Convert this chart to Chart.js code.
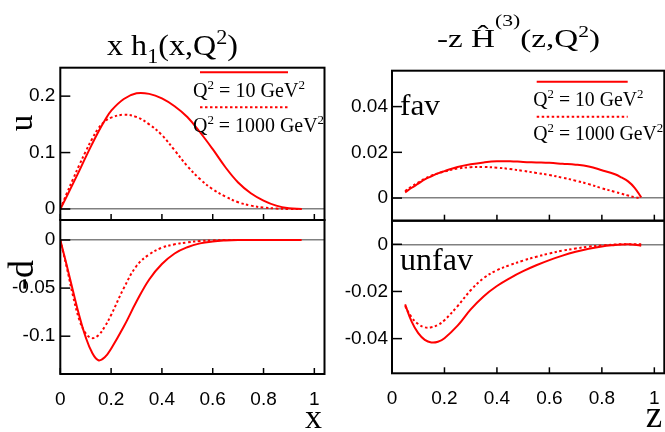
<!DOCTYPE html>
<html><head><meta charset="utf-8">
<script src="https://cdn.jsdelivr.net/npm/chart.js@4.4.1/dist/chart.umd.min.js"></script>
<style>
html,body{margin:0;padding:0;background:#fff;}
#wrap{position:relative;width:665px;height:432px;overflow:hidden;background:#fff;}
canvas{position:absolute;left:0;top:0;}
</style></head><body>
<div id="wrap">
<canvas id="cTL" width="665" height="432"></canvas>
<canvas id="cBL" width="665" height="432"></canvas>
<canvas id="cTR" width="665" height="432"></canvas>
<canvas id="cBR" width="665" height="432"></canvas>
</div>
<script>
// ---------- data ----------
const xLeft   = [0,0.025,0.05,0.075,0.1,0.125,0.15,0.175,0.2,0.25,0.3,0.35,0.4,0.45,0.5,0.55,0.6,0.65,0.7,0.75,0.8,0.85,0.9,0.95];
const uQ10    = [0,0.022,0.045,0.068,0.092,0.115,0.137,0.157,0.174,0.195,0.205,0.204,0.196,0.182,0.163,0.136,0.106,0.074,0.047,0.028,0.015,0.006,0.0015,0];
const uQ1000  = [0,0.027,0.053,0.078,0.102,0.124,0.143,0.155,0.162,0.167,0.163,0.150,0.131,0.104,0.076,0.053,0.035,0.022,0.012,0.006,0.0025,0.0008,0,0];
const dQ10    = [0,-0.026,-0.053,-0.079,-0.101,-0.117,-0.125,-0.122,-0.113,-0.090,-0.064,-0.041,-0.025,-0.014,-0.0075,-0.0035,-0.0015,-0.0005,0,0,0,0,0,0];
const dQ1000  = [0,-0.028,-0.058,-0.083,-0.097,-0.102,-0.099,-0.090,-0.078,-0.050,-0.027,-0.015,-0.008,-0.0045,-0.0025,-0.001,-0.0004,0,0,0,0,0,0,0];

const zRight     = [0.05,0.075,0.1,0.125,0.15,0.175,0.2,0.25,0.3,0.35,0.4,0.45,0.5,0.55,0.6,0.65,0.7,0.75,0.8,0.85,0.875,0.9,0.925,0.95];
const favQ10     = [0.0025,0.0045,0.0063,0.0082,0.0095,0.0108,0.0118,0.0136,0.0148,0.0156,0.0161,0.0161,0.0158,0.0156,0.0154,0.0150,0.0146,0.0138,0.0122,0.0104,0.0090,0.0073,0.0045,0.0003];
const favQ1000   = [0.0030,0.0051,0.0068,0.0085,0.0098,0.0108,0.0116,0.0129,0.0135,0.0136,0.0133,0.0127,0.0119,0.0110,0.0101,0.0089,0.0076,0.0061,0.0043,0.0027,0.0019,0.0011,0.0004,0];
const unfavQ10   = [-0.0255,-0.0328,-0.0377,-0.0405,-0.0416,-0.0413,-0.0398,-0.0345,-0.0276,-0.0220,-0.0177,-0.0143,-0.0114,-0.0089,-0.0067,-0.0048,-0.0032,-0.0019,-0.0009,-0.0003,-0.0001,0,-0.0002,-0.0006];
const unfavQ1000 = [-0.0262,-0.0310,-0.0338,-0.0352,-0.0352,-0.0342,-0.0322,-0.0262,-0.0195,-0.0143,-0.0110,-0.0088,-0.0069,-0.0053,-0.0039,-0.0027,-0.0018,-0.0010,-0.0005,-0.0001,0,0,0,0];

const xTicks      = [0,0.2,0.4,0.6,0.8,1];
const xTickLabels = ['0','0.2','0.4','0.6','0.8','1'];
const uTicks      = [0,0.1,0.2];        const uTickLabels     = ['0','0.1','0.2'];
const dTicks      = [0,-0.05,-0.1];     const dTickLabels     = ['0','-0.05','-0.1'];
const favTicks    = [0,0.02,0.04];      const favTickLabels   = ['0','0.02','0.04'];
const unfavTicks  = [0,-0.02,-0.04];    const unfavTickLabels = ['0','-0.02','-0.04'];
const q2Values    = ['10','1000'];      // Q^2 in GeV^2 for the two series

// ---------- helpers ----------
const SERIF = 'Liberation Serif', SANS = 'Liberation Sans';
function drawRich(ctx, parts, x, y, opt) {
  opt = opt || {};
  let w = 0;
  parts.forEach(p => { ctx.font = p.s + 'px "' + SERIF + '"'; p._w = ctx.measureText(p.t).width; w += p._w; });
  const sx = opt.w ? opt.w / w : 1;
  const x0 = opt.align === 'center' ? x - w * sx / 2 : x;
  ctx.save();
  ctx.translate(x0, y); ctx.scale(sx, 1);
  ctx.fillStyle = '#000'; ctx.textBaseline = 'alphabetic'; ctx.textAlign = 'left';
  let cx = 0;
  parts.forEach(p => { ctx.font = p.s + 'px "' + SERIF + '"'; ctx.fillText(p.t, cx, p.dy || 0); cx += p._w; });
  ctx.restore();
}
function drawRot(ctx, text, size, bx, cy) {
  ctx.save();
  ctx.translate(bx, cy); ctx.rotate(-Math.PI / 2);
  ctx.font = size + 'px "' + SERIF + '"'; ctx.fillStyle = '#000';
  ctx.textAlign = 'center'; ctx.textBaseline = 'alphabetic';
  ctx.fillText(text, 0, 0);
  ctx.restore();
}
function legendParts(q) {
  return [{t:'Q',s:20},{t:'2',s:13,dy:-8},{t:' = ' + q + ' GeV',s:20},{t:'2',s:13,dy:-8}];
}
function drawLegend(ctx, x1, x2, yLine1, yText1, yLine2, yText2, tx, w1, w2) {
  ctx.save();
  ctx.strokeStyle = '#ff0000'; ctx.lineWidth = 2;
  ctx.beginPath(); ctx.moveTo(x1, yLine1); ctx.lineTo(x2, yLine1); ctx.stroke();
  ctx.setLineDash([2.5, 2.5]);
  ctx.beginPath(); ctx.moveTo(x1, yLine2); ctx.lineTo(x2, yLine2); ctx.stroke();
  ctx.restore();
  drawRich(ctx, legendParts(q2Values[0]), tx, yText1, {w: w1});
  drawRich(ctx, legendParts(q2Values[1]), tx, yText2, {w: w2});
}

function makePanel(id, cfg) {
  const W = 665, H = 432, yW = 60, xH = cfg.showX ? 40 : 0;
  const deco = {
    id: 'deco_' + id,
    afterDatasetsDraw(chart) {
      const ctx = chart.ctx, a = chart.chartArea, xs = chart.scales.x, ys = chart.scales.y;
      ctx.save();
      ctx.strokeStyle = '#000'; ctx.lineWidth = 1.5;
      cfg.yTicks.forEach(v => { const py = ys.getPixelForValue(v); ctx.beginPath(); ctx.moveTo(a.left, py); ctx.lineTo(a.left + 10, py); ctx.stroke(); });
      xTicks.forEach(v => { const px = xs.getPixelForValue(v); ctx.beginPath(); ctx.moveTo(px, a.bottom); ctx.lineTo(px, a.bottom - 6); ctx.stroke(); });
      ctx.lineWidth = 2;
      ctx.strokeRect(a.left, a.top, a.right - a.left, a.bottom - a.top);
      ctx.restore();
    },
    afterDraw(chart) { if (cfg.texts) cfg.texts(chart.ctx); }
  };
  return new Chart(document.getElementById(id), {
    type: 'line',
    data: { datasets: cfg.series.map((s, i) => ({
      label: 'Q2 = ' + q2Values[i],
      data: cfg.x.map((xv, j) => ({x: xv, y: s[j]})),
      borderColor: '#ff0000', borderWidth: 2, borderDash: i ? [2.5, 2.5] : [],
      pointRadius: 0, fill: false, tension: 0.4
    })) },
    options: {
      responsive: false, animation: false,
      layout: { padding: { left: cfg.L - yW, top: cfg.T, right: W - cfg.R, bottom: H - cfg.B - xH } },
      plugins: { legend: { display: false }, tooltip: { enabled: false } },
      scales: {
        x: { type: 'linear', min: cfg.xmin, max: cfg.xmax, display: !!cfg.showX,
             afterBuildTicks: s => { s.ticks = xTicks.map(v => ({value: v})); },
             afterFit: s => { s.height = xH; s.paddingLeft = 0; s.paddingRight = 0; },
             grid: { display: false, drawTicks: false }, border: { display: false },
             ticks: { font: { family: SANS, size: 19 }, color: '#000', padding: 14, maxRotation: 0, autoSkip: false,
                      callback: (v, i) => xTickLabels[i] } },
        y: { type: 'linear', min: cfg.ymin, max: cfg.ymax,
             afterBuildTicks: s => { s.ticks = cfg.yTicks.map(v => ({value: v})); },
             afterFit: s => { s.width = yW; s.paddingTop = 0; s.paddingBottom = 0; },
             grid: { drawTicks: false, lineWidth: 1.5, color: c => (c.tick && c.tick.value === 0) ? '#808080' : 'rgba(0,0,0,0)' },
             border: { display: false },
             ticks: { font: { family: SANS, size: 19 }, color: '#000', padding: cfg.tickPad, autoSkip: false,
                      callback: (v, i) => cfg.yLabels[i] } }
      }
    },
    plugins: [deco]
  });
}

// ---------- panels ----------
makePanel('cTL', { x: xLeft, series: [uQ10, uQ1000], L: 60.3, R: 324.5, T: 67.7, B: 220,
  xmin: 0, xmax: 1.04, ymin: -0.0195, ymax: 0.2504, yTicks: uTicks, yLabels: uTickLabels, tickPad: 5, showX: false,
  texts: ctx => {
    drawRich(ctx, [{t:'x h',s:29},{t:'1',s:20,dy:8},{t:'(x,Q',s:29},{t:'2',s:20,dy:-11},{t:')',s:29}], 172.5, 55, {align:'center', w:131});
    drawRot(ctx, 'u', 33, 31.7, 123);
    drawLegend(ctx, 200, 288, 72.3, 96.5, 107.3, 131.5, 193, 112, 131);
  } });

makePanel('cBL', { x: xLeft, series: [dQ10, dQ1000], L: 60.3, R: 324.5, T: 220, B: 374,
  xmin: 0, xmax: 1.04, ymin: -0.1393, ymax: 0.0208, yTicks: dTicks, yLabels: dTickLabels, tickPad: 5, showX: true,
  texts: ctx => {
    drawRot(ctx, '-d', 36, 33, 275);
    drawRich(ctx, [{t:'x',s:34}], 313.5, 428, {align:'center'});
  } });

makePanel('cTR', { x: zRight, series: [favQ10, favQ1000], L: 392, R: 664.3, T: 70.7, B: 220.7,
  xmin: 0, xmax: 1.038, ymin: -0.0099, ymax: 0.0557, yTicks: favTicks, yLabels: favTickLabels, tickPad: 4, showX: false,
  texts: ctx => {
    drawRich(ctx, [{t:'-z ',s:26},{t:'\u0124',s:26},{t:'(3)',s:17,dy:-21},{t:'(z,Q',s:26},{t:'2',s:17,dy:-10},{t:')',s:26}], 518.5, 47, {align:'center', w:163});
    drawRich(ctx, [{t:'fav',s:30}], 400, 115, {w:40});
    drawLegend(ctx, 536.7, 627.7, 81.7, 105.5, 116.7, 140, 533.3, 110, 130);
  } });

makePanel('cBR', { x: zRight, series: [unfavQ10, unfavQ1000], L: 392, R: 664.3, T: 220.7, B: 373.3,
  xmin: 0, xmax: 1.038, ymin: -0.0547, ymax: 0.0100, yTicks: unfavTicks, yLabels: unfavTickLabels, tickPad: 4, showX: true,
  texts: ctx => {
    drawRich(ctx, [{t:'unfav',s:31}], 400, 270, {w:73});
    drawRich(ctx, [{t:'z',s:37}], 654, 427, {align:'center'});
  } });
</script>
</body></html>
